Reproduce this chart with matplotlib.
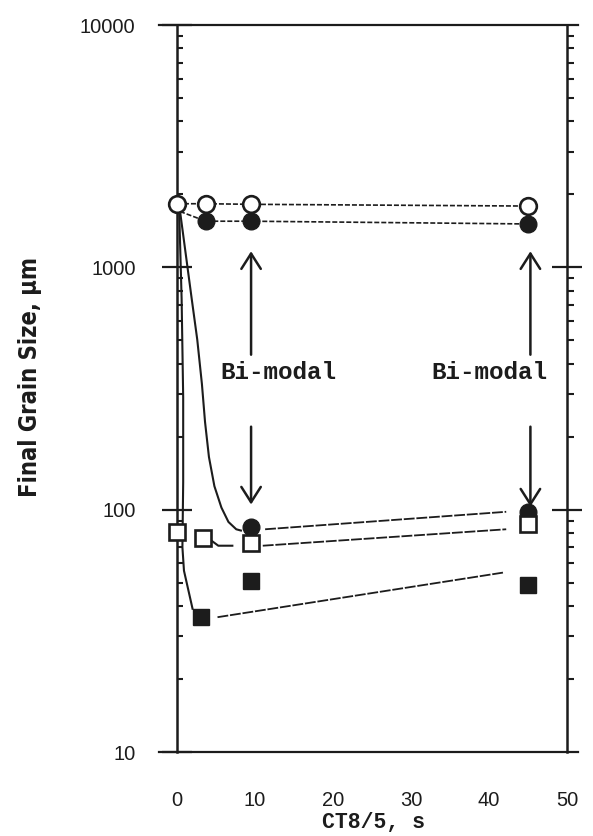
import matplotlib
matplotlib.use("Agg")
import matplotlib.pyplot as plt
from matplotlib.ticker import FixedLocator, FuncFormatter, NullFormatter, LogLocator

# --- data ---
open_circle_x = [0, 3.7, 9.5, 45]
open_circle_y = [1830, 1830, 1820, 1790]

filled_circle_line_x = [0.4, 3.7, 9.5, 45]
filled_circle_line_y = [1700, 1550, 1550, 1510]
filled_circle_x = [3.7, 9.5, 45]
filled_circle_y = [1550, 1550, 1510]

filled_circle_low_x = [9.5, 45]
filled_circle_low_y = [85, 98]

open_square_x = [0, 3.3, 9.5, 45]
open_square_y = [81, 76.5, 73, 87]

filled_square_x = [3.1, 9.5, 45]
filled_square_y = [36, 51, 49]

# hand-drawn curves / fitted lines
curve_a_x = [0.4, 1.9, 2.6, 3.2, 3.6, 4.1, 4.8, 5.7, 6.6, 7.6, 8.2]
curve_a_y = [1700, 738, 504, 330, 230, 165, 125, 102, 89, 83, 82]
curve_b_x = [4.3, 5.3, 7.1]
curve_b_y = [75, 71, 71]
curve_c_x = [0.3, 0.6, 0.8, 0.8, 0.7, 0.9, 2.0]
curve_c_y = [1650, 740, 290, 130, 70, 56, 39]
fit_circle_x = [11.3, 42.2]
fit_circle_y = [83, 98]
fit_square_x = [11.0, 42.2]
fit_square_y = [71, 83]
fit_fsquare_x = [5.2, 41.8]
fit_fsquare_y = [36, 55]

arrow_x = [9.5, 45.3]
arrow_top = 1165
arrow_mid_hi = 436
arrow_mid_lo = 220
arrow_bottom = [105, 103]
label_x = [13.0, 40.0]
label_y = 368

x_ticks = [0, 10, 20, 30, 40, 50]
ink = "#1c1c1c"

fig = plt.figure(figsize=(5.93, 8.36), dpi=100)
ax = fig.add_axes([159 / 593, 84 / 836, 419 / 593, 727 / 836])
ax.set_yscale("log")
ax.set_xlim(-2.3, 51.4)
ax.set_ylim(10, 10000)
ax2 = ax.twinx()
ax2.set_yscale("log")
ax2.set_ylim(10, 10000)

for sp in ["top", "bottom"]:
    ax.spines[sp].set_linewidth(1.6)
    ax.spines[sp].set_color(ink)
ax.spines["left"].set_position(("data", 0))
ax.spines["left"].set_linewidth(1.8)
ax.spines["left"].set_color(ink)
ax.spines["right"].set_visible(False)
for sp in ["left", "top", "bottom"]:
    ax2.spines[sp].set_visible(False)
ax2.spines["right"].set_position(("data", 50))
ax2.spines["right"].set_linewidth(1.8)
ax2.spines["right"].set_color(ink)

tick_font = dict(family=["Liberation Sans", "DejaVu Sans"], size=14.5)

# x axis: labels on majors, crossing ticks on minors
ax.xaxis.set_major_locator(FixedLocator(x_ticks))
ax.xaxis.set_minor_locator(FixedLocator(x_ticks[1:-1]))
ax.tick_params(axis="x", which="major", length=0, pad=28, direction="inout",
               colors=ink)
ax.tick_params(axis="x", which="minor", length=23, width=1.6, direction="inout",
               top=True, bottom=True, colors=ink)
for lab in ax.get_xticklabels():
    lab.set(**tick_font)

# y axis
ax.yaxis.set_major_locator(LogLocator(base=10))
ax.yaxis.set_minor_locator(LogLocator(base=10, subs=range(2, 10)))
ax.yaxis.set_major_formatter(FuncFormatter(lambda v, _: f"{v:g}"))
ax.yaxis.set_minor_formatter(NullFormatter())
ax.tick_params(axis="y", which="major", length=21.6, width=1.6, direction="inout",
               pad=19, colors=ink)
ax.tick_params(axis="y", which="minor", length=4.5, width=1.5, direction="in",
               colors=ink)
for lab in ax.get_yticklabels():
    lab.set(**tick_font)

ax2.yaxis.set_major_locator(FixedLocator([100, 1000]))
ax2.yaxis.set_minor_locator(LogLocator(base=10, subs=range(2, 10)))
ax2.yaxis.set_major_formatter(NullFormatter())
ax2.yaxis.set_minor_formatter(NullFormatter())
ax2.tick_params(axis="y", which="major", length=21.6, width=1.6, direction="inout",
                labelright=False, colors=ink)
ax2.tick_params(axis="y", which="minor", length=5, width=1.5, direction="out",
                colors=ink)

# lines
dash = (0, (3, 1.2))
ax.plot(open_circle_x, open_circle_y, color=ink, lw=1.2, ls=dash, zorder=2)
ax.plot(filled_circle_line_x, filled_circle_line_y, color=ink, lw=1.2, ls=dash, zorder=2)
ax.plot(curve_a_x, curve_a_y, color=ink, lw=1.5, zorder=2)
ax.plot(curve_b_x, curve_b_y, color=ink, lw=1.5, zorder=2)
ax.plot(curve_c_x, curve_c_y, color=ink, lw=1.5, zorder=2)
ax.plot(fit_circle_x, fit_circle_y, color=ink, lw=1.3, ls=(0, (6, 1)), zorder=2)
ax.plot(fit_square_x, fit_square_y, color=ink, lw=1.3, ls=(0, (6, 1)), zorder=2)
ax.plot(fit_fsquare_x, fit_fsquare_y, color=ink, lw=1.3, ls=(0, (6, 1)), zorder=2)

# markers
ax.plot(open_circle_x, open_circle_y, "o", ms=12, mfc="white", mec=ink, mew=1.9,
        ls="none", zorder=4)
ax.plot(filled_circle_x, filled_circle_y, "o", ms=12, mfc=ink, mec=ink, ls="none",
        zorder=3)
ax.plot(filled_circle_low_x, filled_circle_low_y, "o", ms=12, mfc=ink, mec=ink,
        ls="none", zorder=3)
ax.plot(open_square_x, open_square_y, "s", ms=12, mfc="white", mec=ink, mew=1.9,
        ls="none", zorder=4)
ax.plot(filled_square_x, filled_square_y, "s", ms=11.5, mfc=ink, mec=ink,
        ls="none", zorder=3)

# bi-modal arrows and labels
arrow_props = dict(arrowstyle="->, head_length=0.55, head_width=0.35",
                   mutation_scale=20, lw=1.8, color=ink, shrinkA=0, shrinkB=0)
for xa, yb, xl in zip(arrow_x, arrow_bottom, label_x):
    ax.annotate("", xy=(xa, arrow_top), xytext=(xa, arrow_mid_hi),
                arrowprops=arrow_props, zorder=5)
    ax.annotate("", xy=(xa, yb), xytext=(xa, arrow_mid_lo),
                arrowprops=arrow_props, zorder=5)
    ax.text(xl, label_y, "Bi-modal", ha="center", va="center", color=ink,
            family=["Liberation Mono", "DejaVu Sans Mono"], weight="bold",
            size=17.5)

fig.text(30 / 593, 1 - 377 / 836, "Final Grain Size, μm", rotation=90,
         ha="center", va="center", color=ink,
         family=["Liberation Sans Narrow", "DejaVu Sans"], stretch="condensed",
         weight="bold", size=17)
fig.text(373 / 593, 1 - 823 / 836, "CT8/5, s", ha="center", va="center",
         color=ink, family=["Liberation Mono", "DejaVu Sans Mono"],
         weight="bold", size=15.5)

fig.savefig("out.png", dpi=100, facecolor="white")
